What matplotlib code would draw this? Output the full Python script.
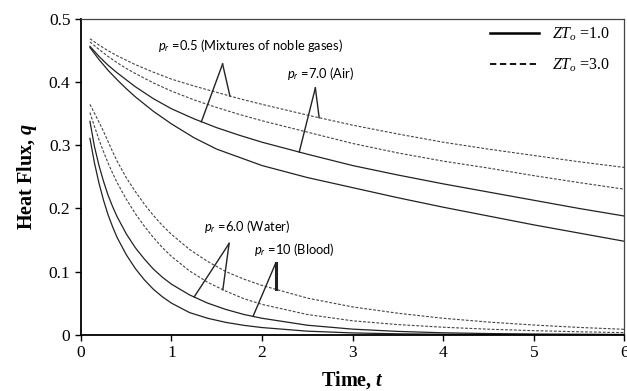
import numpy as np
import matplotlib
matplotlib.use("Agg")
import matplotlib.pyplot as plt
from matplotlib.lines import Line2D

plt.rcParams["mathtext.fontset"] = "custom"
plt.rcParams["mathtext.rm"] = "Liberation Serif"
plt.rcParams["mathtext.it"] = "Liberation Serif:italic"
plt.rcParams["mathtext.bf"] = "Liberation Serif:bold"
plt.rcParams["mathtext.bfit"] = "Liberation Serif:italic:bold"
plt.rcParams["mathtext.sf"] = "Lato:italic"

# upper family of curves (slow decay)
t_upper = [0.1, 0.2, 0.3, 0.4, 0.5, 0.6, 0.8, 1.0, 1.25, 1.5, 1.75, 2.0, 2.5, 3.0, 3.5, 4.0, 4.5, 5.0, 5.5, 6.0]
q_gas_zt3 = [0.469, 0.459, 0.450, 0.442, 0.435, 0.428, 0.416, 0.405, 0.394, 0.384, 0.374, 0.365, 0.348,
             0.332, 0.318, 0.305, 0.294, 0.284, 0.274, 0.265]
q_air_zt3 = [0.464, 0.452, 0.441, 0.431, 0.422, 0.414, 0.399, 0.386, 0.372, 0.360, 0.349, 0.339, 0.321,
             0.303, 0.288, 0.275, 0.264, 0.252, 0.241, 0.2305]
q_gas_zt1 = [0.457, 0.441, 0.427, 0.415, 0.404, 0.393, 0.374, 0.358, 0.342, 0.328, 0.316, 0.305, 0.286,
             0.268, 0.253, 0.239, 0.226, 0.213, 0.200, 0.188]
q_air_zt1 = [0.455, 0.436, 0.419, 0.404, 0.390, 0.377, 0.354, 0.334, 0.312, 0.294, 0.281, 0.268, 0.249,
             0.233, 0.217, 0.202, 0.188, 0.174, 0.161, 0.148]

# lower family of curves (fast decay)
t_lower = [0.1, 0.15, 0.2, 0.25, 0.3, 0.35, 0.4, 0.5, 0.6, 0.7, 0.8, 0.9, 1.0, 1.2, 1.4, 1.6, 1.8, 2.0,
           2.5, 3.0, 3.5, 4.0, 4.5, 5.0, 5.5, 6.0]
q_water_zt3 = [0.365, 0.351, 0.337, 0.322, 0.306, 0.290, 0.275, 0.249, 0.227, 0.207, 0.189, 0.173, 0.159,
               0.135, 0.116, 0.100, 0.088, 0.078, 0.058, 0.044, 0.034, 0.026, 0.020, 0.0153, 0.0115, 0.0085]
q_blood_zt3 = [0.352, 0.330, 0.309, 0.290, 0.272, 0.256, 0.241, 0.215, 0.192, 0.172, 0.154, 0.138, 0.124,
               0.101, 0.083, 0.069, 0.057, 0.048, 0.032, 0.022, 0.016, 0.0118, 0.0087, 0.0064, 0.0046, 0.0033]
q_water_zt1 = [0.338, 0.298, 0.268, 0.243, 0.221, 0.203, 0.187, 0.160, 0.138, 0.120, 0.104, 0.091, 0.080,
               0.063, 0.050, 0.040, 0.032, 0.026, 0.015, 0.0088, 0.0052, 0.003, 0.0018, 0.0011, 0.0007, 0.0004]
q_blood_zt1 = [0.311, 0.272, 0.240, 0.213, 0.190, 0.171, 0.154, 0.127, 0.105, 0.087, 0.072, 0.060, 0.050,
               0.035, 0.026, 0.0195, 0.0148, 0.0113, 0.0056, 0.0028, 0.0014, 0.0007, 0.00035, 0.0002,
               0.00015, 0.0001]

solid_kw = dict(color="#222222", lw=0.9, ls="-")
dash_kw = dict(color="#444444", lw=0.8, ls=(0, (2.5, 1.5)))

fig = plt.figure(figsize=(6.27, 3.91), dpi=100)
ax = fig.add_axes([0.129, 0.144, 0.867, 0.807])

ax.plot(t_upper, q_gas_zt3, **dash_kw)
ax.plot(t_upper, q_air_zt3, **dash_kw)
ax.plot(t_upper, q_gas_zt1, **solid_kw)
ax.plot(t_upper, q_air_zt1, **solid_kw)
ax.plot(t_lower, q_water_zt3, **dash_kw)
ax.plot(t_lower, q_blood_zt3, **dash_kw)
ax.plot(t_lower, q_water_zt1, **solid_kw)
ax.plot(t_lower, q_blood_zt1, **solid_kw)


def pointer(apex, targets, lw=1.0):
    # draw a line from the label apex to a point on each target curve
    for tt, ts, qs in targets:
        ax.plot([apex[0], tt], [apex[1], np.interp(tt, ts, qs)], color="#222222", lw=lw)


pointer((1.564, 0.429), [(1.645, t_upper, q_gas_zt3), (1.33, t_upper, q_gas_zt1)])
pointer((2.588, 0.391), [(2.63, t_upper, q_gas_zt3), (2.41, t_upper, q_gas_zt1)])
pointer((1.636, 0.1446), [(1.25, t_lower, q_water_zt1), (1.567, t_lower, q_blood_zt3)])
pointer((2.152, 0.114), [(1.90, t_lower, q_water_zt1)])
pointer((2.152, 0.114), [(2.152, t_lower, q_water_zt3)], lw=2.2)

lab_kw = dict(fontsize=9.3, family="Lato", va="center", ha="left")
ax.text(0.853, 0.458, r"$\mathsf{p}_{\mathsf{r}}$ =0.5 (Mixtures of noble gases)", **lab_kw)
ax.text(2.277, 0.4136, r"$\mathsf{p}_{\mathsf{r}}$ =7.0 (Air)", **lab_kw)
ax.text(1.358, 0.171, r"$\mathsf{p}_{\mathsf{r}}$ =6.0 (Water)", **lab_kw)
ax.text(1.91, 0.135, r"$\mathsf{p}_{\mathsf{r}}$ =10 (Blood)", **lab_kw)

handles = [Line2D([], [], color="black", lw=1.8, ls="-"),
           Line2D([], [], color="black", lw=1.3, ls=(0, (3.5, 2)))]
ax.legend(handles, [r"$ZT_o$ =1.0", r"$ZT_o$ =3.0"], loc="upper right", frameon=False,
          bbox_to_anchor=(1.0, 1.025), handlelength=3.1, handletextpad=0.8,
          labelspacing=0.85, prop={"family": "Liberation Serif", "size": 11.5})

ax.set_xlim(0, 6)
ax.set_ylim(0, 0.5)
ax.set_xticks(range(7))
ax.set_xticklabels([str(i) for i in range(7)])
ax.set_yticks([0, 0.1, 0.2, 0.3, 0.4, 0.5])
ax.set_yticklabels(["0", "0.1", "0.2", "0.3", "0.4", "0.5"])
ax.tick_params(direction="out", length=4, width=1, labelsize=12.5, top=False, right=False)
for lab in ax.get_xticklabels() + ax.get_yticklabels():
    lab.set_family("Liberation Serif")

for side in ["left", "bottom"]:
    ax.spines[side].set_color("black")
    ax.spines[side].set_linewidth(1.3)
for side in ["top", "right"]:
    ax.spines[side].set_color("#444444")
    ax.spines[side].set_linewidth(0.9)

ax.set_xlabel(r"Time, $\mathbfit{t}$", family="Liberation Serif", fontweight="bold", fontsize=14.5, labelpad=6)
ax.set_ylabel(r"Heat Flux, $\mathbfit{q}$", family="Liberation Serif", fontweight="bold", fontsize=14.5, labelpad=7)

fig.savefig("out.png", dpi=100)
